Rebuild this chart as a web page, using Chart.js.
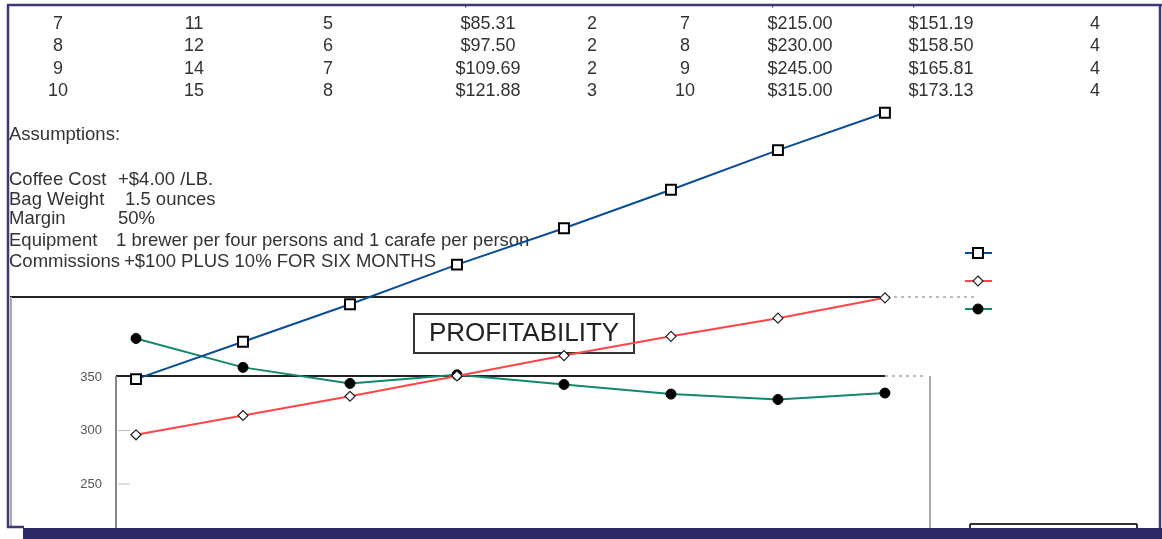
<!DOCTYPE html>
<html>
<head>
<meta charset="utf-8">
<title>Profitability</title>
<script src="https://cdn.jsdelivr.net/npm/chart.js@4.4.1/dist/chart.umd.min.js"></script>
<style>
  html, body { margin: 0; padding: 0; background: #fff; }
  canvas { display: block; }
</style>
</head>
<body>
<canvas id="profitChart" width="1162" height="539"></canvas>
<script>
// periods along the x axis
const periods = [1, 2, 3, 4, 5, 6, 7, 8];

// series
const squareSeries = [348, 383, 418, 455, 489, 525, 562, 597];
const diamondSeries = [296, 314, 332, 351, 370, 388, 405, 424];
const dotSeries = [386, 359, 344, 352, 343, 334, 329, 335];

const yTicks = [250, 300, 350];

// spreadsheet text around the chart
const tableRows = [
    ['6', '9', '4', '$73.13', '2', '6', '$200.00', '$143.88', '3'],
    ['7', '11', '5', '$85.31', '2', '7', '$215.00', '$151.19', '4'],
    ['8', '12', '6', '$97.50', '2', '8', '$230.00', '$158.50', '4'],
    ['9', '14', '7', '$109.69', '2', '9', '$245.00', '$165.81', '4'],
    ['10', '15', '8', '$121.88', '3', '10', '$315.00', '$173.13', '4']
];
const assumptionsTitle = 'Assumptions:';
const assumptionLabels = ['Coffee Cost', 'Bag Weight', 'Margin', 'Equipment', 'Commissions'];
const assumptionValues = ['+$4.00 /LB.', '1.5 ounces', '50%', '1 brewer per four persons and 1 carafe per person', '+$100 PLUS 10% FOR SIX MONTHS'];
const chartTitle = 'PROFITABILITY';

const FONT = '"Liberation Sans", Arial, sans-serif';
const NAVY = '#2e2a68';

function line(ctx, x1, y1, x2, y2, color, width, dash) {
    ctx.save();
    ctx.strokeStyle = color;
    ctx.lineWidth = width;
    ctx.setLineDash(dash || []);
    ctx.beginPath();
    ctx.moveTo(x1, y1);
    ctx.lineTo(x2, y2);
    ctx.stroke();
    ctx.restore();
}

function marker(ctx, ds, x, y) {
    const r = ds.pointRadius;
    ctx.save();
    ctx.fillStyle = ds.pointBackgroundColor;
    ctx.strokeStyle = ds.pointBorderColor;
    ctx.lineWidth = ds.pointBorderWidth;
    ctx.beginPath();
    if (ds.pointStyle === 'rect') {
        const s = r * Math.SQRT1_2;
        ctx.rect(x - s, y - s, 2 * s, 2 * s);
    } else if (ds.pointStyle === 'rectRot') {
        ctx.moveTo(x, y - r);
        ctx.lineTo(x + r, y);
        ctx.lineTo(x, y + r);
        ctx.lineTo(x - r, y);
        ctx.closePath();
    } else {
        ctx.arc(x, y, r, 0, Math.PI * 2);
    }
    ctx.fill();
    ctx.stroke();
    ctx.restore();
}

const sheetPlugin = {
    id: 'sheet',
    beforeDatasetsDraw(chart) {
        const ctx = chart.ctx;
        const yScale = chart.scales.y;

        // table rows
        const colX = [58, 194, 328, 488, 592, 685, 800, 941, 1095];
        ctx.save();
        ctx.beginPath();
        ctx.rect(0, 6, 1162, 120);
        ctx.clip();
        ctx.font = '18px ' + FONT;
        ctx.fillStyle = '#333';
        ctx.textAlign = 'center';
        ctx.textBaseline = 'middle';
        tableRows.forEach((row, i) => {
            row.forEach((cell, j) => ctx.fillText(cell, colX[j], 1.5 + i * 22.5));
        });
        ctx.restore();

        // assumptions block
        ctx.save();
        ctx.font = '18.5px ' + FONT;
        ctx.fillStyle = '#333';
        ctx.textBaseline = 'middle';
        ctx.fillText(assumptionsTitle, 9, 135);
        const rowY = [180, 200, 219, 241, 262];
        const valX = [118, 125, 118, 116, 124];
        assumptionLabels.forEach((t, i) => {
            ctx.fillText(t, 9, rowY[i]);
            ctx.fillText(assumptionValues[i], valX[i], rowY[i]);
        });
        ctx.restore();

        // chart frames
        line(ctx, 10, 297, 880, 297, '#222', 2);
        line(ctx, 880, 297, 975, 297, '#bbb', 2, [3, 4]);
        line(ctx, 11, 297, 11, 528, '#aaa', 2);
        line(ctx, 116, 376, 885, 376, '#222', 2);
        line(ctx, 885, 376, 925, 376, '#bbb', 2, [3, 4]);
        line(ctx, 116, 376, 116, 528, '#888', 2);
        line(ctx, 930, 376, 930, 528, '#aaa', 2);
        line(ctx, 970, 524, 1137, 524, '#333', 2);
        line(ctx, 970, 524, 970, 528, '#333', 2);
        line(ctx, 1137, 524, 1137, 528, '#333', 2);

        // small tick marks
        [300, 250].forEach(v => {
            const py = yScale.getPixelForValue(v);
            line(ctx, 118, py, 130, py, '#bbb', 1);
        });

        // title box
        ctx.save();
        ctx.fillStyle = '#fff';
        ctx.fillRect(414, 314, 220, 39);
        ctx.strokeStyle = '#333';
        ctx.lineWidth = 2;
        ctx.strokeRect(414, 314, 220, 39);
        ctx.font = '26px ' + FONT;
        ctx.fillStyle = '#222';
        ctx.textAlign = 'center';
        ctx.textBaseline = 'middle';
        ctx.fillText(chartTitle, 524, 334);
        ctx.restore();
    },
    afterDraw(chart) {
        const ctx = chart.ctx;

        // legend markers without text
        const legendY = [253, 281, 309];
        chart.data.datasets.forEach((ds, i) => {
            line(ctx, 965, legendY[i], 992, legendY[i], ds.borderColor, 2);
            marker(ctx, ds, 978, legendY[i]);
        });

        // page border
        ctx.save();
        ctx.fillStyle = NAVY;
        ctx.fillRect(23, 528, 1139, 11);
        ctx.restore();
        line(ctx, 8, 5, 8, 528, '#3b3879', 2.5);
        line(ctx, 7, 5, 1162, 5, '#3b3879', 2.5);
        line(ctx, 1160, 5, 1160, 528, '#3b3879', 2.5);
        line(ctx, 7, 527, 24, 527, '#3b3879', 2.5);
    }
};

new Chart(document.getElementById('profitChart'), {
    type: 'line',
    data: {
        datasets: [{
            label: 'Series 1',
            data: periods.map((p, i) => ({ x: p, y: squareSeries[i] })),
            borderColor: '#0b4c96',
            borderWidth: 2,
            pointStyle: 'rect',
            pointRadius: 7,
            pointBackgroundColor: '#fff',
            pointBorderColor: '#000',
            pointBorderWidth: 2
        }, {
            label: 'Series 2',
            data: periods.map((p, i) => ({ x: p, y: diamondSeries[i] })),
            borderColor: '#ff4545',
            borderWidth: 2,
            pointStyle: 'rectRot',
            pointRadius: 5,
            pointBackgroundColor: '#fff',
            pointBorderColor: '#222',
            pointBorderWidth: 1.2
        }, {
            label: 'Series 3',
            data: periods.map((p, i) => ({ x: p, y: dotSeries[i] })),
            borderColor: '#12876b',
            borderWidth: 2,
            pointStyle: 'circle',
            pointRadius: 5,
            pointBackgroundColor: '#000',
            pointBorderColor: '#000',
            pointBorderWidth: 1
        }]
    },
    options: {
        responsive: false,
        maintainAspectRatio: false,
        animation: false,
        layout: { padding: { left: 0, right: 232, top: 56, bottom: 22.9 } },
        plugins: {
            legend: { display: false },
            tooltip: { enabled: false }
        },
        scales: {
            x: {
                type: 'linear',
                display: false,
                min: 0.813,
                max: 8.421
            },
            y: {
                min: 220,
                max: 650,
                afterFit: (scale) => { scale.width = 116; },
                afterBuildTicks: (scale) => { scale.ticks = yTicks.map(v => ({ value: v })); },
                grid: { display: false, drawTicks: false },
                border: { display: false },
                ticks: {
                    padding: 14,
                    color: '#555',
                    font: { family: FONT, size: 13 }
                }
            }
        }
    },
    plugins: [sheetPlugin]
});
</script>
</body>
</html>
